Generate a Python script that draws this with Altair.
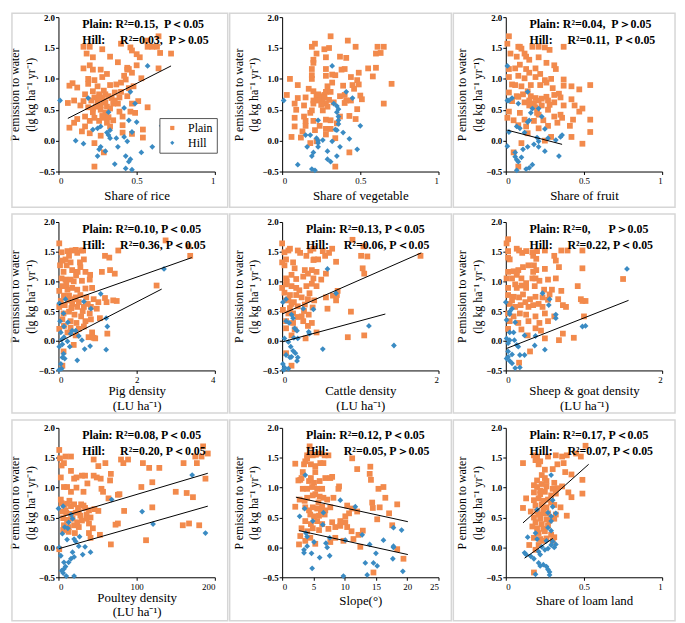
import altair as alt
import pandas as pd

ORANGE = "#F28A4C"
BLUE = "#3A8BC3"
NB = "\u00a0"

# ---------------- data (x, y) ----------------
rice_plain = [(0.64,1.69),(0.57,1.52),(0.60,1.52),(0.63,1.52),(0.65,1.42),(0.72,1.41),(0.56,1.62),(0.16,1.52),(0.20,1.52),(0.28,1.48),(0.40,1.57),(0.46,1.51),(0.47,1.46),(0.50,1.40),(0.52,1.35),(0.22,1.35),(0.33,1.36),(0.18,1.41),(0.38,1.27),(0.50,1.22),(0.44,1.18),(0.44,1.15),(0.45,1.16),(0.16,1.17),(0.20,1.22),(0.22,1.15),(0.27,1.15),(0.31,1.08),(0.47,1.10),(0.64,1.17),(0.28,1.03),(0.19,1.00),(0.23,0.98),(0.19,0.92),(0.09,0.93),(0.07,0.89),(0.12,0.86),(0.25,0.88),(0.33,0.90),(0.37,0.91),(0.40,0.94),(0.43,0.99),(0.53,1.01),(0.48,0.88),(0.29,0.81),(0.22,0.80),(0.17,0.75),(0.26,0.75),(0.30,0.75),(0.36,0.78),(0.40,0.79),(0.44,0.72),(0.34,0.69),(0.29,0.65),(0.23,0.70),(0.21,0.65),(0.16,0.64),(0.10,0.65),(0.06,0.61),(0.14,0.57),(0.19,0.54),(0.27,0.57),(0.31,0.55),(0.38,0.60),(0.47,0.60),(0.51,0.64),(0.27,0.50),(0.22,0.46),(0.30,0.45),(0.39,0.47),(0.46,0.47),(0.49,0.45),(0.57,0.54),(0.17,0.39),(0.23,0.37),(0.29,0.37),(0.35,0.33),(0.41,0.39),(0.26,0.32),(0.31,0.29),(0.12,0.35),(0.10,0.29),(0.20,0.32),(0.07,0.21),(0.17,0.23),(0.33,0.23),(0.41,0.25),(0.54,0.18),(0.20,0.12),(0.27,0.08),(0.41,0.13),(0.47,0.11),(0.54,0.05),(0.23,-0.04),(0.29,-0.19),(0.23,-0.42),(0.15,0.15),(0.22,0.52),(0.25,0.62),(0.28,0.70),(0.32,0.72),(0.26,0.68),(0.30,0.62),(0.35,0.60),(0.33,0.52),(0.24,0.55),(0.36,0.65),(0.28,0.40),(0.32,0.38),(0.45,0.85),(0.42,1.05),(0.39,0.70)]
rice_hill = [(0.57,1.21),(0.01,0.65),(0.46,0.79),(0.19,0.69),(0.49,0.60),(0.42,0.53),(0.32,0.46),(0.45,0.33),(0.50,0.30),(0.27,0.23),(0.22,0.18),(0.33,0.17),(0.32,0.09),(0.47,0.14),(0.42,0.06),(0.33,0.04),(0.11,0.00),(0.37,0.04),(0.44,-0.01),(0.16,-0.05),(0.60,-0.10),(0.38,-0.10),(0.27,-0.10),(0.26,-0.14),(0.30,-0.17),(0.53,-0.19),(0.43,-0.25),(0.25,-0.25),(0.46,-0.30),(0.45,-0.34),(0.36,-0.38),(0.43,-0.45),(0.47,-0.47),(0.66,0.24),(0.31,0.13),(0.25,0.20)]
rice_lines = [(0.06,0.36,0.72,1.21)]

veg_plain = [(0.31,1.69),(0.42,1.62),(0.47,1.52),(0.61,1.52),(0.65,1.52),(0.60,1.41),(0.63,1.42),(0.21,1.57),(0.19,1.52),(0.27,1.48),(0.30,1.50),(0.22,1.41),(0.37,1.36),(0.41,1.34),(0.28,1.35),(0.20,1.31),(0.20,1.26),(0.19,1.16),(0.28,1.16),(0.38,1.15),(0.40,1.16),(0.55,1.17),(0.60,1.18),(0.28,1.05),(0.32,1.07),(0.34,1.06),(0.19,1.06),(0.19,1.00),(0.49,1.10),(0.58,1.04),(0.05,1.00),(0.10,0.90),(0.44,1.03),(0.39,0.89),(0.48,0.98),(0.49,0.91),(0.45,0.90),(0.70,0.92),(0.29,0.88),(0.32,0.94),(0.17,0.84),(0.20,0.80),(0.28,0.79),(0.31,0.79),(0.46,0.84),(0.03,0.74),(0.10,0.69),(0.15,0.70),(0.22,0.71),(0.25,0.72),(0.27,0.74),(0.37,0.72),(0.40,0.74),(0.50,0.73),(0.51,0.67),(0.41,0.65),(0.44,0.65),(0.20,0.65),(0.23,0.65),(0.26,0.64),(0.08,0.60),(0.14,0.57),(0.20,0.60),(0.28,0.60),(0.40,0.61),(0.65,0.60),(0.09,0.50),(0.19,0.49),(0.26,0.49),(0.48,0.51),(0.14,0.39),(0.37,0.39),(0.43,0.40),(0.08,0.37),(0.15,0.32),(0.20,0.32),(0.28,0.34),(0.31,0.33),(0.47,0.35),(0.08,0.23),(0.15,0.24),(0.24,0.24),(0.28,0.19),(0.31,0.19),(0.21,0.17),(0.13,0.15),(0.06,0.06),(0.12,0.05),(0.28,0.10),(0.34,0.04),(0.43,-0.19),(0.34,-0.42),(0.22,-0.01),(0.18,-0.04),(0.24,0.68),(0.27,0.70),(0.30,0.66),(0.25,0.58),(0.29,0.55),(0.23,0.75),(0.33,0.62),(0.18,0.45),(0.35,0.28)]
veg_hill = [(0.32,1.21),(0.01,0.65),(0.41,0.79),(0.45,0.69),(0.33,0.60),(0.35,0.56),(0.36,0.51),(0.35,0.46),(0.36,0.39),(0.23,0.33),(0.36,0.33),(0.50,0.24),(0.36,0.27),(0.34,0.18),(0.35,0.17),(0.39,0.13),(0.15,0.09),(0.18,0.09),(0.22,0.04),(0.26,0.01),(0.43,0.03),(0.32,-0.01),(0.23,-0.04),(0.16,-0.10),(0.37,-0.10),(0.48,-0.14),(0.23,-0.10),(0.29,-0.17),(0.20,-0.19),(0.19,-0.25),(0.35,-0.25),(0.29,-0.30),(0.31,-0.34),(0.10,-0.39),(0.19,-0.46),(0.21,-0.48),(0.23,0.00)]
veg_lines = []

fruit_plain = [(0.02,1.69),(0.01,1.57),(0.03,1.41),(0.08,1.52),(0.10,1.49),(0.09,1.52),(0.07,1.36),(0.12,1.41),(0.13,1.36),(0.17,1.52),(0.21,1.52),(0.25,1.51),(0.28,1.47),(0.37,1.52),(0.15,1.31),(0.21,1.35),(0.09,1.23),(0.02,1.16),(0.06,1.17),(0.13,1.16),(0.19,1.17),(0.26,1.26),(0.31,1.22),(0.32,1.16),(0.15,1.10),(0.22,1.08),(0.02,1.03),(0.08,1.05),(0.12,1.01),(0.19,1.03),(0.25,0.98),(0.26,0.94),(0.29,1.00),(0.37,0.99),(0.04,0.91),(0.06,0.90),(0.10,0.88),(0.16,0.90),(0.22,0.90),(0.37,0.89),(0.42,0.88),(0.47,0.83),(0.54,0.90),(0.02,0.78),(0.11,0.75),(0.07,0.72),(0.08,0.71),(0.16,0.72),(0.19,0.69),(0.26,0.71),(0.31,0.74),(0.34,0.76),(0.35,0.70),(0.42,0.67),(0.04,0.64),(0.12,0.62),(0.15,0.65),(0.21,0.65),(0.27,0.65),(0.31,0.62),(0.15,0.57),(0.23,0.57),(0.19,0.54),(0.37,0.57),(0.44,0.57),(0.49,0.52),(0.02,0.47),(0.09,0.45),(0.21,0.42),(0.27,0.50),(0.31,0.39),(0.35,0.42),(0.47,0.47),(0.01,0.37),(0.05,0.33),(0.12,0.34),(0.18,0.32),(0.24,0.33),(0.36,0.37),(0.43,0.34),(0.54,0.34),(0.08,0.25),(0.13,0.23),(0.21,0.20),(0.27,0.24),(0.33,0.29),(0.41,0.24),(0.54,0.14),(0.14,0.12),(0.29,0.06),(0.42,0.06),(0.25,0.00),(0.10,-0.04),(0.49,-0.05),(0.05,-0.19),(0.08,-0.42),(0.18,0.60),(0.23,0.68),(0.14,0.80),(0.28,0.58),(0.20,0.45),(0.30,0.85)]
fruit_hill = [(0.01,1.21),(0.01,0.65),(0.14,0.79),(0.04,0.69),(0.02,0.65),(0.08,0.60),(0.17,0.52),(0.21,0.52),(0.16,0.45),(0.15,0.33),(0.14,0.30),(0.23,0.39),(0.07,0.23),(0.09,0.20),(0.25,0.19),(0.02,0.14),(0.12,0.13),(0.20,0.05),(0.27,0.04),(0.36,0.09),(0.35,0.06),(0.32,0.01),(0.21,-0.01),(0.01,-0.09),(0.14,-0.10),(0.18,-0.06),(0.21,-0.10),(0.25,-0.17),(0.11,-0.14),(0.06,-0.19),(0.06,-0.26),(0.07,-0.31),(0.08,-0.34),(0.34,-0.25),(0.17,-0.39),(0.15,-0.44),(0.07,-0.48),(0.13,-0.46),(0.10,-0.27)]
fruit_lines = [(0.01,0.17,0.36,-0.06)]

pig_plain = [(0.02,1.64),(0.08,1.49),(0.10,1.35),(0.18,1.37),(0.23,1.51),(0.27,1.43),(0.35,1.52),(0.44,1.53),(0.48,1.48),(0.65,1.37),(0.31,1.32),(0.21,1.27),(0.56,1.24),(0.13,1.16),(0.35,1.19),(0.49,1.16),(0.69,1.16),(0.81,1.11),(1.11,1.16),(1.32,1.19),(1.44,1.13),(1.19,1.43),(1.30,1.40),(1.53,1.52),(2.74,1.69),(3.33,1.59),(3.37,1.43),(2.51,0.93),(1.40,0.68),(1.49,0.67),(1.19,0.72),(1.23,0.65),(1.25,0.12),(0.08,1.05),(0.18,1.03),(0.31,1.03),(0.39,1.00),(0.60,1.01),(0.80,1.03),(0.10,0.92),(0.23,0.86),(0.35,0.89),(0.48,0.86),(0.69,0.88),(0.86,0.89),(0.14,0.76),(0.27,0.76),(0.44,0.73),(0.56,0.77),(0.71,0.73),(0.90,0.70),(1.02,0.65),(0.06,0.67),(0.16,0.60),(0.35,0.62),(0.48,0.57),(0.65,0.57),(0.83,0.57),(0.98,0.54),(0.13,0.46),(0.27,0.49),(0.41,0.44),(0.58,0.41),(0.80,0.46),(0.10,0.36),(0.31,0.33),(0.46,0.30),(0.69,0.33),(0.83,0.36),(1.06,0.38),(0.14,0.25),(0.31,0.22),(0.52,0.20),(0.65,0.24),(0.86,0.14),(0.23,0.14),(0.44,0.09),(0.77,0.06),(0.90,0.05),(0.39,-0.07),(0.13,-0.18),(0.10,-0.42),(0.02,0.20),(0.02,0.57),(0.02,0.84),(0.04,1.27),(0.94,0.04),(0.55,1.32),(0.58,1.52),(0.63,1.52),(0.25,0.68),(0.40,0.70),(0.52,0.65),(0.33,0.55),(0.20,0.95),(0.45,1.10),(0.62,0.50),(0.75,0.62)]
pig_hill = [(2.70,1.21),(0.02,0.63),(0.18,0.70),(1.08,0.79),(0.65,0.66),(0.83,0.54),(0.13,0.46),(0.24,0.31),(0.04,0.33),(1.22,0.38),(1.25,0.24),(0.35,0.17),(0.14,0.24),(0.31,0.12),(0.52,0.08),(0.08,0.02),(0.23,-0.01),(0.10,-0.06),(0.29,-0.10),(0.02,-0.10),(0.60,0.01),(0.81,-0.09),(0.67,-0.14),(1.22,-0.15),(0.13,-0.22),(0.10,-0.28),(0.16,-0.30),(0.48,-0.33),(0.06,-0.39),(0.08,-0.47),(0.02,-0.49),(0.44,0.17),(0.06,0.14),(0.14,0.06)]
pig_lines = [(0.02,0.61,3.41,1.40),(0.02,-0.02,2.64,0.87)]

cattle_plain = [(0.00,1.64),(0.03,1.49),(0.08,1.52),(0.10,1.55),(0.20,1.52),(0.23,1.48),(0.36,1.52),(0.40,1.55),(0.52,1.51),(0.64,1.55),(0.60,1.48),(0.55,1.43),(0.90,1.70),(1.04,1.59),(1.01,1.43),(1.09,1.42),(1.77,1.43),(0.05,1.37),(0.14,1.32),(0.40,1.36),(0.46,1.37),(0.69,1.33),(0.41,1.37),(0.03,1.27),(0.16,1.22),(0.29,1.19),(0.38,1.19),(0.44,1.16),(0.56,1.13),(1.03,1.22),(1.05,1.13),(0.05,1.05),(0.12,1.11),(0.18,1.04),(0.27,1.08),(0.33,1.13),(0.40,1.05),(0.50,1.03),(0.05,0.95),(0.12,0.92),(0.18,0.89),(0.31,0.92),(0.38,0.96),(0.44,0.92),(0.03,0.81),(0.10,0.77),(0.18,0.77),(0.25,0.73),(0.33,0.70),(0.41,0.68),(0.56,0.73),(0.65,0.76),(0.70,0.77),(0.71,0.84),(0.05,0.68),(0.12,0.62),(0.20,0.58),(0.29,0.61),(0.39,0.56),(0.58,0.54),(0.69,0.68),(0.01,0.52),(0.08,0.46),(0.14,0.46),(0.25,0.41),(0.34,0.44),(0.05,0.33),(0.14,0.30),(0.27,0.33),(0.38,0.30),(0.05,0.21),(0.16,0.19),(0.33,0.25),(0.12,0.09),(0.30,0.04),(0.44,0.14),(0.84,0.06),(1.05,0.09),(0.88,0.49),(0.05,-0.21),(0.12,-0.42),(0.00,0.89),(0.00,1.32),(0.31,1.43),(0.08,0.70),(0.15,0.65),(0.22,0.85),(0.10,0.55),(0.20,0.40),(0.28,0.50),(0.35,0.80),(0.06,1.00)]
cattle_hill = [(0.58,1.21),(0.01,0.65),(0.05,0.70),(0.69,0.80),(0.40,0.53),(0.27,0.54),(0.12,0.44),(0.14,0.38),(0.05,0.33),(0.09,0.30),(0.34,0.15),(0.35,0.12),(0.16,0.21),(0.19,0.17),(1.11,0.25),(0.15,0.05),(0.20,0.04),(0.03,0.04),(0.08,-0.02),(0.52,-0.14),(1.43,-0.08),(0.11,-0.10),(0.14,-0.17),(0.17,-0.21),(0.19,-0.34),(0.12,-0.27),(0.05,-0.24),(0.01,-0.39),(0.03,-0.45),(0.08,-0.47),(0.02,-0.49),(0.10,-0.28),(0.20,-0.28)]
cattle_lines = [(0.00,0.45,1.78,1.48),(0.00,-0.02,1.32,0.45)]

sheep_plain = [(0.03,1.71),(0.01,1.64),(0.03,1.51),(0.05,1.37),(0.03,1.40),(0.14,1.55),(0.17,1.52),(0.21,1.48),(0.26,1.51),(0.34,1.49),(0.40,1.51),(0.35,1.43),(0.39,1.38),(0.50,1.52),(0.62,1.43),(0.71,1.52),(0.79,1.52),(0.98,1.52),(0.64,1.35),(0.03,1.16),(0.10,1.17),(0.14,1.16),(0.16,1.19),(0.22,1.24),(0.29,1.27),(0.36,1.27),(0.39,1.19),(0.50,1.21),(0.35,1.16),(0.68,1.24),(0.98,1.22),(1.50,1.04),(0.01,1.05),(0.08,1.05),(0.14,1.11),(0.20,1.05),(0.26,0.97),(0.34,1.05),(0.38,1.05),(0.43,1.01),(0.54,1.03),(0.64,1.05),(0.03,0.89),(0.14,0.89),(0.20,0.93),(0.26,0.89),(0.37,0.92),(0.49,0.86),(0.59,0.86),(0.71,0.84),(0.92,0.92),(0.03,0.77),(0.10,0.74),(0.17,0.73),(0.22,0.78),(0.31,0.70),(0.38,0.74),(0.47,0.73),(0.54,0.69),(0.67,0.70),(0.96,0.70),(1.02,0.67),(0.98,0.67),(0.05,0.62),(0.12,0.57),(0.19,0.60),(0.29,0.57),(0.35,0.60),(0.47,0.57),(0.73,0.60),(0.77,0.57),(0.03,0.46),(0.10,0.41),(0.18,0.46),(0.26,0.44),(0.38,0.41),(0.50,0.46),(0.62,0.41),(1.00,0.41),(0.05,0.33),(0.16,0.30),(0.29,0.33),(0.43,0.30),(0.54,0.33),(0.03,0.20),(0.20,0.19),(0.38,0.21),(0.45,0.17),(0.73,0.12),(0.87,0.05),(0.28,0.09),(0.50,0.04),(0.68,0.01),(0.31,-0.18),(0.17,-0.37),(0.08,0.68),(0.12,0.95),(0.25,0.65),(0.42,0.62),(0.56,0.78)]
sheep_hill = [(1.55,1.21),(0.00,0.65),(0.47,0.80),(0.56,0.70),(0.64,0.44),(0.55,0.60),(0.08,0.54),(0.05,0.49),(0.05,0.45),(0.12,0.31),(0.01,0.35),(0.64,0.38),(0.05,0.14),(0.10,0.14),(0.24,0.09),(0.38,0.08),(0.98,0.24),(1.02,0.25),(0.01,0.04),(0.05,0.01),(0.11,0.01),(0.03,-0.04),(0.37,-0.08),(0.16,-0.10),(0.50,-0.15),(0.03,-0.18),(0.08,-0.23),(0.18,-0.24),(0.24,-0.24),(0.01,-0.30),(0.05,-0.34),(0.08,-0.38),(0.12,-0.46),(0.18,-0.45),(0.03,-0.27),(0.14,-0.07)]
sheep_lines = [(0.01,-0.13,1.57,0.68)]

poultry_plain = [(1,1.63),(2,1.49),(4,1.37),(3,1.17),(9,1.52),(16,1.52),(7,1.41),(16,1.28),(20,1.15),(23,1.17),(30,1.20),(34,1.20),(37,1.07),(45,1.20),(49,1.17),(51,1.36),(54,1.15),(60,1.41),(66,1.12),(67,1.23),(45,1.47),(7,1.01),(11,1.01),(16,0.93),(23,1.00),(32,0.93),(55,0.98),(57,0.93),(64,0.82),(76,0.88),(78,0.89),(80,1.47),(83,1.41),(89,1.47),(106,1.01),(108,1.41),(116,1.33),(120,1.09),(129,1.33),(150,0.93),(160,1.41),(164,0.91),(172,0.84),(175,1.52),(177,1.41),(183,1.52),(185,1.69),(191,1.57),(188,1.15),(3,0.80),(4,0.74),(7,0.71),(11,0.73),(16,0.69),(20,0.72),(25,0.66),(29,0.72),(34,0.66),(39,0.62),(46,0.64),(51,0.61),(5,0.60),(10,0.58),(16,0.56),(22,0.58),(28,0.53),(36,0.55),(41,0.50),(6,0.49),(11,0.46),(18,0.48),(24,0.42),(30,0.45),(36,0.48),(7,0.37),(13,0.34),(20,0.37),(26,0.34),(39,0.40),(76,0.40),(6,0.29),(13,0.26),(21,0.24),(53,0.21),(39,0.24),(44,0.32),(41,0.16),(67,0.05),(112,0.12),(159,0.37),(167,0.40),(180,0.37),(120,0.67),(84,0.61),(73,0.38),(1,-0.03),(9,0.62),(14,0.78),(26,0.60),(32,0.70)]
poultry_hill = [(171,1.21),(0,0.65),(6,0.69),(68,0.80),(107,0.60),(121,0.39),(188,0.24),(13,0.42),(8,0.34),(16,0.55),(18,0.48),(12,0.32),(27,0.18),(20,0.14),(5,0.23),(11,0.13),(22,0.10),(26,0.02),(34,0.01),(31,-0.12),(41,-0.08),(18,-0.08),(16,-0.19),(20,-0.16),(7,-0.25),(13,-0.25),(9,-0.32),(7,-0.36),(4,-0.39),(6,-0.43),(10,-0.48),(20,-0.48),(1,0.00),(3,-0.14)]
poultry_lines = [(1,0.50,191,1.24),(1,-0.02,191,0.69)]

slope_plain = [(2.1,1.40),(2.6,1.12),(2.9,1.13),(3.1,1.16),(3.3,1.26),(3.5,1.39),(3.7,1.44),(4.0,1.49),(4.4,1.69),(4.0,1.54),(4.5,1.57),(4.9,1.54),(5.4,1.55),(6.0,1.57),(6.8,1.54),(7.4,1.54),(4.6,1.39),(5.3,1.36),(6.1,1.41),(6.6,1.41),(5.3,1.26),(4.6,1.16),(4.3,1.11),(5.1,1.08),(6.0,1.11),(6.9,1.16),(7.7,1.16),(8.0,1.18),(3.3,0.98),(4.0,0.98),(4.8,1.01),(5.6,0.98),(6.4,0.98),(2.1,0.68),(2.8,0.80),(3.6,0.78),(4.0,0.83),(4.9,0.87),(5.3,0.89),(6.0,0.85),(6.6,0.83),(7.2,0.80),(8.2,0.83),(9.0,0.98),(9.1,1.02),(11.2,1.49),(12.0,1.31),(14.1,1.35),(14.0,1.23),(14.2,1.13),(14.4,0.75),(14.5,0.66),(15.4,0.98),(16.2,1.01),(16.5,0.83),(15.6,0.67),(15.2,0.47),(17.1,0.57),(17.6,0.37),(18.4,0.72),(18.4,-0.03),(19.4,-0.19),(3.7,0.67),(4.3,0.62),(4.9,0.67),(5.6,0.65),(6.4,0.68),(6.9,0.62),(7.7,0.67),(4.5,0.55),(5.1,0.52),(5.9,0.53),(6.8,0.55),(3.7,0.44),(4.6,0.39),(5.6,0.44),(6.4,0.39),(8.0,0.42),(9.3,0.44),(10.1,0.52),(10.7,0.57),(11.2,0.65),(12.0,0.60),(10.4,0.70),(3.1,0.32),(4.0,0.27),(4.9,0.32),(5.9,0.29),(7.4,0.31),(8.5,0.34),(9.3,0.36),(10.4,0.34),(11.1,0.27),(12.2,0.21),(12.9,0.28),(2.9,0.19),(3.7,0.11),(4.5,0.16),(5.3,0.06),(7.7,0.09),(8.5,0.16),(9.8,0.11),(11.4,0.14),(12.5,0.01),(2.7,0.05),(14.6,-0.42),(10.1,0.42),(5.8,0.75),(6.2,0.60)]
slope_hill = [(3.7,1.21),(2.8,0.52),(3.6,0.65),(4.9,0.44),(6.5,0.38),(6.6,0.58),(9.3,0.79),(11.7,0.68),(3.8,0.24),(4.0,0.18),(7.6,0.16),(10.1,0.12),(12.8,0.21),(17.8,0.33),(19.1,0.29),(16.2,0.12),(14.0,0.05),(4.0,0.02),(7.0,0.07),(7.2,0.00),(17.8,0.02),(17.8,0.00),(3.5,-0.04),(3.5,-0.09),(4.7,-0.10),(15.0,-0.10),(6.0,-0.17),(7.6,-0.14),(17.7,-0.19),(13.3,-0.26),(14.6,-0.26),(15.2,-0.31),(19.3,-0.40),(4.8,-0.35),(9.8,-0.48),(13.6,-0.46),(5.1,0.09)]
slope_lines = [(2.2,0.84,20.1,0.43),(2.7,0.28,20.1,-0.12)]

loam_plain = [(0.11,1.41),(0.18,1.54),(0.20,1.52),(0.19,1.46),(0.21,1.39),(0.22,1.44),(0.27,1.52),(0.32,1.54),(0.36,1.52),(0.37,1.41),(0.39,1.54),(0.45,1.57),(0.48,1.52),(0.51,1.70),(0.30,1.31),(0.33,1.39),(0.38,1.26),(0.42,1.22),(0.23,1.21),(0.25,1.16),(0.20,1.12),(0.26,1.11),(0.31,1.08),(0.49,1.13),(0.18,1.04),(0.20,1.01),(0.23,1.06),(0.26,1.02),(0.33,0.99),(0.36,1.02),(0.18,0.92),(0.22,0.89),(0.25,0.93),(0.29,0.87),(0.32,0.90),(0.40,0.92),(0.42,0.84),(0.49,0.90),(0.13,0.82),(0.18,0.79),(0.21,0.82),(0.24,0.78),(0.29,0.75),(0.19,0.70),(0.23,0.72),(0.26,0.67),(0.31,0.71),(0.35,0.67),(0.11,0.66),(0.16,0.60),(0.20,0.60),(0.24,0.57),(0.27,0.57),(0.32,0.55),(0.39,0.53),(0.18,0.50),(0.22,0.48),(0.26,0.47),(0.31,0.48),(0.19,0.42),(0.23,0.39),(0.27,0.37),(0.20,0.32),(0.24,0.31),(0.21,0.24),(0.25,0.27),(0.29,0.21),(0.18,0.16),(0.22,0.14),(0.26,0.15),(0.31,0.17),(0.15,0.04),(0.21,0.04),(0.19,-0.04),(0.24,0.11),(0.30,0.11),(0.18,-0.42),(0.22,0.95),(0.27,0.80),(0.24,0.65),(0.28,0.45),(0.21,0.55),(0.25,1.30),(0.30,0.98),(0.17,0.35)]
loam_hill = [(0.29,1.21),(0.30,0.79),(0.30,0.68),(0.29,0.52),(0.20,0.63),(0.27,0.58),(0.29,0.44),(0.32,0.57),(0.27,0.33),(0.29,0.28),(0.19,0.24),(0.14,0.17),(0.20,0.14),(0.26,0.11),(0.30,0.10),(0.32,0.05),(0.29,0.04),(0.23,0.01),(0.25,-0.04),(0.27,-0.02),(0.31,0.00),(0.12,-0.09),(0.13,-0.12),(0.21,-0.07),(0.22,-0.12),(0.16,-0.15),(0.18,-0.19),(0.21,-0.26),(0.24,-0.29),(0.22,-0.31),(0.26,-0.32),(0.27,-0.37),(0.28,-0.41),(0.28,-0.46),(0.19,-0.45)]
loam_lines = [(0.11,0.41,0.53,1.39),(0.12,-0.18,0.30,0.15)]


def stat(plain, hill):
    return ["Plain:" + NB + plain, "Hill:" + NB * 5 + hill]


panels = [
    ("Share of rice", [0, 1], [0, 0.5, 1], "~g", rice_plain, rice_hill, rice_lines,
     stat("R²=0.15," + NB * 2 + "P＜0.05", "R²=0.03," + NB * 2 + "P＞0.05")),
    ("Share of vegetable", [0, 1], [0, 0.5, 1], "~g", veg_plain, veg_hill, veg_lines, []),
    ("Share of fruit", [0, 1], [0, 0.5, 1], "~g", fruit_plain, fruit_hill, fruit_lines,
     stat("R²=0.04," + NB * 2 + "P＞0.05", "R²=0.11," + NB * 2 + "P＜0.05")),
    (["Pig density", "(LU ha⁻¹)"], [0, 4], [0, 2, 4], "d", pig_plain, pig_hill, pig_lines,
     stat("R²=0.10," + NB + "P＜0.05", "R²=0.36," + NB + "P＜0.05")),
    (["Cattle density", "(LU ha⁻¹)"], [0, 2], [0, 1, 2], "d", cattle_plain, cattle_hill, cattle_lines,
     stat("R²=0.13," + NB + "P＜0.05", "R²=0.06," + NB + "P＜0.05")),
    (["Sheep & goat density", "(LU ha⁻¹)"], [0, 2], [0, 1, 2], "d", sheep_plain, sheep_hill, sheep_lines,
     stat("R²=0," + NB * 6 + "P＞0.05", "R²=0.22," + NB + "P＜0.05")),
    (["Poultey density", "(LU ha⁻¹)"], [0, 200], [0, 100, 200], "d", poultry_plain, poultry_hill, poultry_lines,
     stat("R²=0.08," + NB + "P＜0.05", "R²=0.20," + NB + "P＜0.05")),
    ("Slope(°)", [0, 25], [0, 5, 10, 15, 20, 25], "d", slope_plain, slope_hill, slope_lines,
     stat("R²=0.12," + NB + "P＜0.05", "R²=0.05," + NB + "P＞0.05")),
    ("Share of loam land", [0, 1], [0, 0.5, 1], "~g", loam_plain, loam_hill, loam_lines,
     stat("R²=0.17," + NB + "P＜0.05", "R²=0.07," + NB + "P＜0.05")),
]

Y_TITLE = ["P emission to water", "(lg kg ha⁻¹ yr⁻¹)"]
FONT = "Liberation Serif"
W = 158
HEIGHTS = [156, 150, 151]
FRAME_TOP = [-4, -8, -8]
FRAME_BOTTOM = [36, 43, 44]
FRAME_LEFT = [-47, -53, -53]
FRAME_RIGHT = W + 13


def make_panel(r, c, spec):
    idx = r * 3 + c
    height = HEIGHTS[r]
    xtitle, xdom, xticks, xfmt, plain, hill, lines, texts = spec
    rows = [{"x": x, "y": y, "group": "Plain"} for x, y in plain] + \
           [{"x": x, "y": y, "group": "Hill"} for x, y in hill]
    df = pd.DataFrame(rows)
    two_line = isinstance(xtitle, list)
    xaxis = alt.Axis(values=xticks, format=xfmt, title=xtitle, titlePadding=0 if two_line else 4)
    yaxis = alt.Axis(values=[-0.5, 0, 0.5, 1.0, 1.5, 2.0], format=".1f", title=Y_TITLE)
    xscale = alt.Scale(domain=xdom, nice=False, zero=False)
    yscale = alt.Scale(domain=[-0.5, 2.0], nice=False, zero=False)
    if idx == 0:
        legend = alt.Legend(title=None, orient="none", legendX=102, legendY=102,
                            padding=4, strokeColor="#555555", fillColor="white",
                            labelFont=FONT, labelFontSize=12, symbolSize=18, symbolOffset=3,
                            rowPadding=3, labelOffset=10, symbolStrokeWidth=0)
    else:
        legend = None
    frame = alt.Chart(pd.DataFrame({"f": [0]})).mark_rect(
        fillOpacity=0, stroke="#d6d6d6", strokeWidth=1.5).encode(
        x=alt.value(FRAME_LEFT[c]), x2=alt.value(FRAME_RIGHT),
        y=alt.value(FRAME_TOP[r]), y2=alt.value(height + FRAME_BOTTOM[r]))
    pts = alt.Chart(df).mark_point(filled=True, size=34, opacity=1, strokeWidth=0).encode(
        x=alt.X("x:Q", scale=xscale, axis=xaxis),
        y=alt.Y("y:Q", scale=yscale, axis=yaxis),
        color=alt.Color("group:N", scale=alt.Scale(domain=["Plain", "Hill"], range=[ORANGE, BLUE]), legend=legend),
        shape=alt.Shape("group:N", scale=alt.Scale(domain=["Plain", "Hill"], range=["square", "diamond"]), legend=legend),
    )
    layers = [frame, pts]
    if lines:
        ldf = pd.DataFrame(lines, columns=["x1", "y1", "x2", "y2"])
        layers.append(alt.Chart(ldf).mark_rule(color="black", strokeWidth=1).encode(
            x=alt.X("x1:Q", scale=xscale, axis=xaxis),
            y=alt.Y("y1:Q", scale=yscale, axis=yaxis),
            x2="x2:Q", y2="y2:Q"))
    for k, t in enumerate(texts):
        layers.append(alt.Chart(pd.DataFrame({"t": [t]})).mark_text(
            align="left", baseline="middle", font=FONT, fontWeight="bold",
            fontSize=12, color="black").encode(
            x=alt.value(24), y=alt.value(7 + 16 * k), text="t:N"))
    return alt.layer(*layers).properties(width=W, height=height)


rows = []
for r in range(3):
    ch = [make_panel(r, c, panels[r * 3 + c]) for c in range(3)]
    rows.append(alt.hconcat(*ch, spacing=68, bounds="flush")
                .resolve_scale(color="independent", shape="independent")
                .resolve_legend(color="independent", shape="independent"))

chart = alt.vconcat(*rows, spacing=3).resolve_scale(
    color="independent", shape="independent").resolve_legend(
    color="independent", shape="independent").properties(
    padding=0).configure_view(
    stroke="transparent").configure_axis(
    grid=False, domainColor="black", tickColor="black", labelColor="black", titleColor="black",
    labelFont=FONT, titleFont=FONT, titleFontWeight="normal", tickSize=3, domainWidth=1, tickWidth=1,
).configure_axisY(
    labelFontWeight="bold", labelFontSize=9, titleFontSize=12, titleLineHeight=16, titlePadding=1, labelPadding=1,
).configure_axisX(
    labelFontSize=9, titleFontSize=13, titleLineHeight=15, labelPadding=2,
)

chart.save("out.html", embed_options={"renderer": "svg", "actions": False})
